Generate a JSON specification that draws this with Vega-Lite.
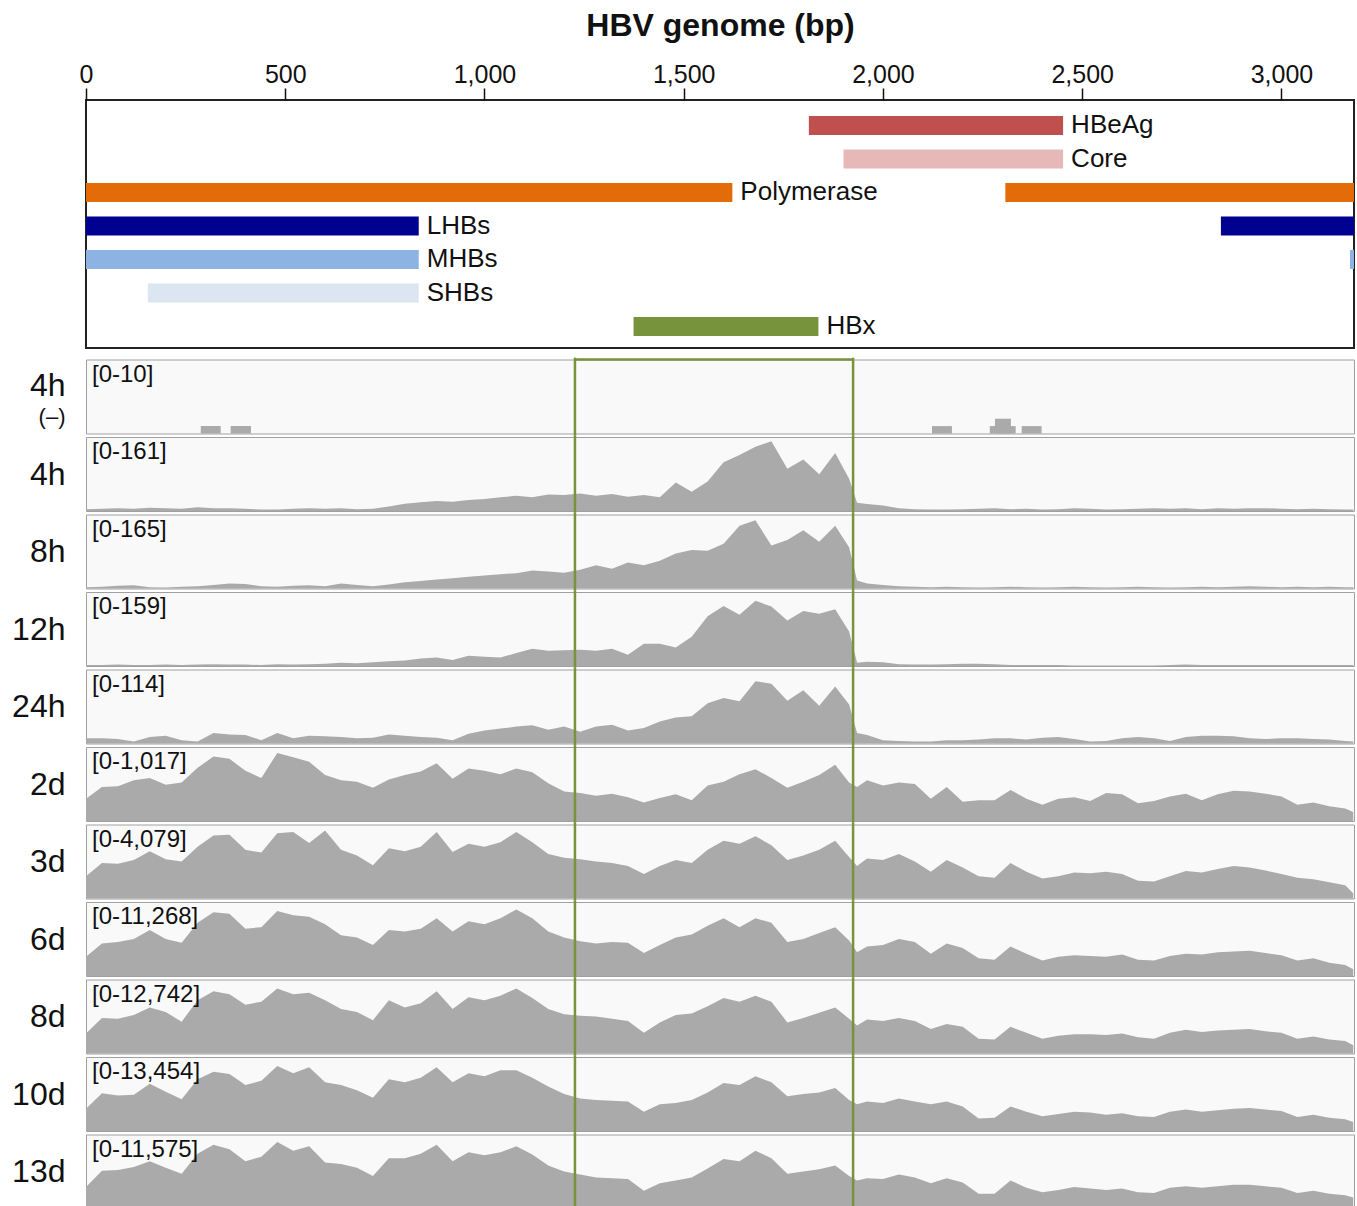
{
"$schema": "https://vega.github.io/schema/vega-lite/v6.json",
"padding": {"left": 11, "top": 8, "right": 0, "bottom": 0},
"spacing": -2.5,
"config": {"font": "Liberation Sans", "view": {"stroke": null}, "axis": {"labelColor": "#111", "titleColor": "#111"}},
"datasets": {
"box": [{"x": 1227}, {"x": 1925}],
"genes": [
{"gene": "HBeAg", "start": 1814, "end": 2452, "lab": "HBeAg"},
{"gene": "Core", "start": 1901, "end": 2452, "lab": "Core"},
{"gene": "Polymerase", "start": 0, "end": 1622, "lab": "Polymerase"},
{"gene": "Polymerase", "start": 2307, "end": 3182, "lab": ""},
{"gene": "LHBs", "start": 0, "end": 835, "lab": "LHBs"},
{"gene": "LHBs", "start": 2848, "end": 3182, "lab": ""},
{"gene": "MHBs", "start": 0, "end": 835, "lab": "MHBs"},
{"gene": "MHBs", "start": 3172, "end": 3182, "lab": ""},
{"gene": "SHBs", "start": 155, "end": 835, "lab": "SHBs"},
{"gene": "HBx", "start": 1374, "end": 1838, "lab": "HBx"}
],
"cov": [
{"x":0,"h4":4,"h8":3,"h12":2,"h24":8,"d2":305,"d3":1224,"d6":2930,"d8":3440,"d10":4036,"d13":3357},
{"x":40,"h4":5,"h8":4,"h12":2,"h24":8,"d2":468,"d3":1958,"d6":4958,"d8":6116,"d10":6862,"d13":5903},
{"x":80,"h4":6,"h8":6,"h12":3,"h24":7,"d2":478,"d3":1917,"d6":5183,"d8":5989,"d10":6458,"d13":6019},
{"x":120,"h4":5,"h8":7,"h12":2,"h24":3,"d2":559,"d3":2121,"d6":5634,"d8":6626,"d10":6592,"d13":6482},
{"x":160,"h4":7,"h8":3,"h12":2,"h24":10,"d2":590,"d3":2611,"d6":6986,"d8":7900,"d10":8611,"d13":7408},
{"x":200,"h4":6,"h8":2,"h12":3,"h24":12,"d2":498,"d3":2162,"d6":5634,"d8":7136,"d10":7131,"d13":6366},
{"x":240,"h4":5,"h8":4,"h12":2,"h24":5,"d2":529,"d3":2040,"d6":5071,"d8":5479,"d10":5785,"d13":5440},
{"x":280,"h4":8,"h8":5,"h12":3,"h24":3,"d2":732,"d3":2855,"d6":8113,"d8":9174,"d10":9418,"d13":8566},
{"x":320,"h4":6,"h8":8,"h12":4,"h24":16,"d2":885,"d3":3467,"d6":9690,"d8":10703,"d10":10763,"d13":9955},
{"x":360,"h4":6,"h8":11,"h12":3,"h24":14,"d2":854,"d3":3508,"d6":9465,"d8":10194,"d10":10360,"d13":9260},
{"x":400,"h4":5,"h8":10,"h12":3,"h24":13,"d2":692,"d3":2692,"d6":7212,"d8":8410,"d10":8341,"d13":7408},
{"x":440,"h4":3,"h8":5,"h12":2,"h24":5,"d2":590,"d3":2529,"d6":7437,"d8":8919,"d10":9149,"d13":8103},
{"x":480,"h4":3,"h8":4,"h12":4,"h24":16,"d2":936,"d3":3590,"d6":9916,"d8":11213,"d10":11840,"d13":10418},
{"x":520,"h4":5,"h8":6,"h12":3,"h24":8,"d2":875,"d3":3671,"d6":9240,"d8":10194,"d10":10494,"d13":9029},
{"x":560,"h4":6,"h8":7,"h12":4,"h24":12,"d2":814,"d3":3059,"d6":9014,"d8":10448,"d10":11570,"d13":9723},
{"x":600,"h4":5,"h8":5,"h12":5,"h24":11,"d2":631,"d3":3753,"d6":7888,"d8":9174,"d10":8880,"d13":7177},
{"x":640,"h4":6,"h8":11,"h12":7,"h24":10,"d2":559,"d3":2692,"d6":6197,"d8":7645,"d10":8341,"d13":6945},
{"x":680,"h4":4,"h8":8,"h12":6,"h24":8,"d2":539,"d3":2366,"d6":5859,"d8":7136,"d10":7400,"d13":6366},
{"x":720,"h4":5,"h8":5,"h12":8,"h24":9,"d2":458,"d3":1836,"d6":4733,"d8":5734,"d10":6054,"d13":5093},
{"x":760,"h4":10,"h8":9,"h12":10,"h24":14,"d2":570,"d3":2774,"d6":6986,"d8":9174,"d10":9418,"d13":7871},
{"x":800,"h4":16,"h8":14,"h12":12,"h24":12,"d2":631,"d3":2611,"d6":6761,"d8":7900,"d10":8880,"d13":7871},
{"x":840,"h4":19,"h8":17,"h12":16,"h24":10,"d2":681,"d3":2855,"d6":7212,"d8":8665,"d10":9687,"d13":8566},
{"x":880,"h4":22,"h8":20,"h12":18,"h24":9,"d2":793,"d3":3671,"d6":8789,"d8":10703,"d10":11570,"d13":9955},
{"x":920,"h4":20,"h8":23,"h12":13,"h24":5,"d2":580,"d3":2570,"d6":6761,"d8":7645,"d10":8880,"d13":7408},
{"x":960,"h4":24,"h8":26,"h12":22,"h24":15,"d2":722,"d3":3018,"d6":8338,"d8":9684,"d10":10494,"d13":8797},
{"x":1000,"h4":26,"h8":29,"h12":20,"h24":20,"d2":692,"d3":2855,"d6":7888,"d8":9174,"d10":9956,"d13":8334},
{"x":1040,"h4":30,"h8":32,"h12":18,"h24":23,"d2":641,"d3":3100,"d6":8789,"d8":9939,"d10":11032,"d13":8797},
{"x":1080,"h4":33,"h8":34,"h12":28,"h24":26,"d2":722,"d3":3671,"d6":10141,"d8":11213,"d10":11032,"d13":9723},
{"x":1120,"h4":30,"h8":40,"h12":37,"h24":28,"d2":671,"d3":3100,"d6":8789,"d8":9557,"d10":9687,"d13":8450},
{"x":1160,"h4":36,"h8":38,"h12":33,"h24":21,"d2":519,"d3":2447,"d6":6761,"d8":7645,"d10":8072,"d13":6714},
{"x":1200,"h4":35,"h8":35,"h12":34,"h24":26,"d2":407,"d3":2243,"d6":5859,"d8":6753,"d10":6727,"d13":5788},
{"x":1240,"h4":38,"h8":42,"h12":35,"h24":18,"d2":386,"d3":2162,"d6":5296,"d8":6498,"d10":5920,"d13":5325},
{"x":1280,"h4":33,"h8":52,"h12":33,"h24":26,"d2":346,"d3":2040,"d6":4958,"d8":6371,"d10":5651,"d13":4862},
{"x":1320,"h4":37,"h8":44,"h12":37,"h24":29,"d2":376,"d3":1958,"d6":5183,"d8":5989,"d10":5516,"d13":4746},
{"x":1360,"h4":31,"h8":58,"h12":24,"h24":20,"d2":325,"d3":1795,"d6":5071,"d8":5606,"d10":5382,"d13":4630},
{"x":1400,"h4":35,"h8":52,"h12":48,"h24":24,"d2":254,"d3":1346,"d6":3493,"d8":3568,"d10":3498,"d13":2778},
{"x":1440,"h4":30,"h8":62,"h12":48,"h24":34,"d2":315,"d3":1795,"d6":4733,"d8":5352,"d10":4843,"d13":3936},
{"x":1480,"h4":62,"h8":78,"h12":40,"h24":40,"d2":366,"d3":2121,"d6":5859,"d8":6626,"d10":5113,"d13":4399},
{"x":1520,"h4":42,"h8":86,"h12":63,"h24":42,"d2":285,"d3":1958,"d6":6310,"d8":6881,"d10":5651,"d13":4862},
{"x":1560,"h4":64,"h8":84,"h12":107,"h24":62,"d2":488,"d3":2692,"d6":7662,"d8":8155,"d10":6996,"d13":6251},
{"x":1600,"h4":106,"h8":100,"h12":129,"h24":70,"d2":539,"d3":3182,"d6":8789,"d8":9557,"d10":8745,"d13":7755},
{"x":1640,"h4":122,"h8":140,"h12":110,"h24":65,"d2":641,"d3":3018,"d6":7437,"d8":8919,"d10":8341,"d13":7408},
{"x":1680,"h4":140,"h8":152,"h12":140,"h24":96,"d2":712,"d3":3426,"d6":8789,"d8":9939,"d10":9956,"d13":9029},
{"x":1720,"h4":152,"h8":96,"h12":128,"h24":92,"d2":590,"d3":2937,"d6":8113,"d8":8919,"d10":8880,"d13":7871},
{"x":1760,"h4":92,"h8":108,"h12":98,"h24":66,"d2":458,"d3":2121,"d6":5183,"d8":5352,"d10":6323,"d13":5440},
{"x":1800,"h4":112,"h8":130,"h12":118,"h24":82,"d2":539,"d3":2366,"d6":5634,"d8":6116,"d10":6727,"d13":5788},
{"x":1840,"h4":80,"h8":104,"h12":112,"h24":58,"d2":631,"d3":2692,"d6":6535,"d8":7008,"d10":6996,"d13":6135},
{"x":1880,"h4":126,"h8":140,"h12":122,"h24":88,"d2":773,"d3":3182,"d6":7437,"d8":7900,"d10":7803,"d13":6714},
{"x":1915,"h4":70,"h8":92,"h12":74,"h24":60,"d2":529,"d3":2284,"d6":5409,"d8":5989,"d10":5651,"d13":5093},
{"x":1935,"h4":18,"h8":18,"h12":7,"h24":16,"d2":468,"d3":1795,"d6":3606,"d8":4842,"d10":4843,"d13":4399},
{"x":1960,"h4":15,"h8":11,"h12":9,"h24":13,"d2":559,"d3":2203,"d6":4507,"d8":5861,"d10":5382,"d13":4746},
{"x":2000,"h4":12,"h8":8,"h12":8,"h24":5,"d2":488,"d3":2121,"d6":4733,"d8":5606,"d10":5113,"d13":4630},
{"x":2040,"h4":6,"h8":5,"h12":4,"h24":4,"d2":529,"d3":2447,"d6":5634,"d8":6116,"d10":5920,"d13":5325},
{"x":2080,"h4":4,"h8":4,"h12":3,"h24":3,"d2":509,"d3":2040,"d6":5183,"d8":5606,"d10":5382,"d13":4862},
{"x":2120,"h4":3,"h8":3,"h12":3,"h24":3,"d2":305,"d3":1468,"d6":3380,"d8":4205,"d10":4843,"d13":3936},
{"x":2160,"h4":3,"h8":4,"h12":4,"h24":5,"d2":468,"d3":2121,"d6":4958,"d8":5097,"d10":5382,"d13":4746},
{"x":2200,"h4":4,"h8":3,"h12":5,"h24":5,"d2":264,"d3":1713,"d6":4282,"d8":4587,"d10":4440,"d13":4051},
{"x":2240,"h4":5,"h8":2,"h12":5,"h24":6,"d2":285,"d3":1224,"d6":2704,"d8":2548,"d10":2287,"d13":2315},
{"x":2280,"h4":6,"h8":3,"h12":4,"h24":8,"d2":285,"d3":1142,"d6":2479,"d8":2421,"d10":2422,"d13":2315},
{"x":2320,"h4":4,"h8":4,"h12":2,"h24":8,"d2":427,"d3":1958,"d6":4507,"d8":4587,"d10":4440,"d13":4399},
{"x":2360,"h4":5,"h8":3,"h12":2,"h24":6,"d2":305,"d3":1468,"d6":3380,"d8":3568,"d10":3498,"d13":3241},
{"x":2400,"h4":3,"h8":2,"h12":2,"h24":9,"d2":224,"d3":1101,"d6":2366,"d8":2548,"d10":2691,"d13":2547},
{"x":2440,"h4":4,"h8":3,"h12":2,"h24":10,"d2":305,"d3":1224,"d6":2930,"d8":3058,"d10":3094,"d13":2894},
{"x":2480,"h4":6,"h8":4,"h12":1,"h24":7,"d2":325,"d3":1428,"d6":3155,"d8":3313,"d10":3498,"d13":3357},
{"x":2520,"h4":5,"h8":3,"h12":1,"h24":3,"d2":275,"d3":1387,"d6":3042,"d8":3313,"d10":3364,"d13":3125},
{"x":2560,"h4":3,"h8":2,"h12":1,"h24":4,"d2":386,"d3":1468,"d6":2930,"d8":3186,"d10":2960,"d13":2894},
{"x":2600,"h4":4,"h8":3,"h12":1,"h24":8,"d2":366,"d3":1346,"d6":3268,"d8":3440,"d10":3229,"d13":3125},
{"x":2640,"h4":5,"h8":4,"h12":1,"h24":10,"d2":244,"d3":979,"d6":2479,"d8":2803,"d10":2691,"d13":2547},
{"x":2680,"h4":6,"h8":3,"h12":1,"h24":8,"d2":275,"d3":938,"d6":2366,"d8":2548,"d10":2556,"d13":2431},
{"x":2720,"h4":5,"h8":2,"h12":2,"h24":4,"d2":336,"d3":1224,"d6":3042,"d8":3568,"d10":3498,"d13":3241},
{"x":2760,"h4":6,"h8":3,"h12":3,"h24":10,"d2":376,"d3":1509,"d6":3380,"d8":4077,"d10":3902,"d13":3473},
{"x":2800,"h4":4,"h8":4,"h12":2,"h24":12,"d2":285,"d3":1428,"d6":3268,"d8":3695,"d10":3498,"d13":3241},
{"x":2840,"h4":6,"h8":3,"h12":2,"h24":12,"d2":366,"d3":1632,"d6":3606,"d8":3950,"d10":3767,"d13":3473},
{"x":2880,"h4":5,"h8":4,"h12":2,"h24":11,"d2":417,"d3":1795,"d6":3718,"d8":4077,"d10":4036,"d13":3704},
{"x":2920,"h4":6,"h8":5,"h12":2,"h24":8,"d2":407,"d3":1713,"d6":3831,"d8":4205,"d10":4171,"d13":3704},
{"x":2960,"h4":6,"h8":4,"h12":2,"h24":7,"d2":376,"d3":1550,"d6":3493,"d8":3823,"d10":3902,"d13":3473},
{"x":3000,"h4":5,"h8":3,"h12":2,"h24":8,"d2":336,"d3":1346,"d6":3155,"d8":3568,"d10":3633,"d13":3241},
{"x":3040,"h4":4,"h8":4,"h12":2,"h24":8,"d2":224,"d3":1142,"d6":2366,"d8":2548,"d10":2556,"d13":2431},
{"x":3080,"h4":5,"h8":3,"h12":2,"h24":7,"d2":254,"d3":1061,"d6":2704,"d8":2931,"d10":2960,"d13":2778},
{"x":3120,"h4":4,"h8":4,"h12":2,"h24":6,"d2":203,"d3":897,"d6":2028,"d8":2421,"d10":2422,"d13":2315},
{"x":3160,"h4":3,"h8":3,"h12":2,"h24":4,"d2":173,"d3":734,"d6":1690,"d8":2166,"d10":2153,"d13":2084},
{"x":3180,"h4":3,"h8":3,"h12":2,"h24":3,"d2":122,"d3":286,"d6":1014,"d8":1402,"d10":1614,"d13":1736}
]
},
"vconcat": [
{
 "width": 1268, "height": 248,
 "view": {"fill": "white", "stroke": "#222", "strokeWidth": 2},
 "data": {"name": "genes"},
 "layer": [
  {"mark": {"type": "bar"},
   "encoding": {
    "x": {"field": "start", "type": "quantitative", "scale": {"domain": [0, 3182], "nice": false},
      "axis": {"orient": "top", "title": "HBV genome (bp)", "values": [0, 500, 1000, 1500, 2000, 2500, 3000], "labelExpr": "format(datum.value, ',')", "labelFontSize": 25, "labelFlush": false, "tickSize": 12, "tickColor": "#111", "tickWidth": 1.5, "domain": false, "grid": false, "labelPadding": 1, "titleFontSize": 32, "titleFontWeight": "bold", "titlePadding": 20}},
    "x2": {"field": "end"},
    "y": {"field": "gene", "type": "nominal", "sort": ["HBeAg", "Core", "Polymerase", "LHBs", "MHBs", "SHBs", "HBx"], "scale": {"paddingInner": 0.433, "paddingOuter": 0.418, "align": 0.57}, "axis": null},
    "color": {"field": "gene", "type": "nominal", "scale": {"domain": ["HBeAg", "Core", "Polymerase", "LHBs", "MHBs", "SHBs", "HBx"], "range": ["#c0504d", "#e6b9b8", "#e36c09", "#000091", "#8db3e2", "#dce6f2", "#77933c"]}, "legend": null}
   }},
  {"mark": {"type": "text", "align": "left", "baseline": "middle", "dx": 8, "fontSize": 26, "color": "#111"},
   "encoding": {
    "x": {"field": "end", "type": "quantitative", "scale": {"domain": [0, 3182], "nice": false}, "axis": {"orient": "bottom", "labels": false, "domain": false, "grid": false, "ticks": true, "tickSize": 10, "tickOpacity": 0, "title": null, "values": [0]}},
    "y": {"field": "gene", "type": "nominal", "sort": ["HBeAg", "Core", "Polymerase", "LHBs", "MHBs", "SHBs", "HBx"]},
    "text": {"field": "lab"}
   }}
 ],
 "resolve": {"axis": {"x": "independent"}}
},
{
 "width": 1268, "height": 74,
 "view": {"fill": "#f9f9f9", "stroke": "#a0a0a0", "strokeWidth": 1},
 "layer": [
  {"data": {"values": [{"s": 288, "e": 338, "v": 1}, {"s": 363, "e": 414, "v": 1}, {"s": 2123, "e": 2173, "v": 1}, {"s": 2268, "e": 2333, "v": 1}, {"s": 2281, "e": 2321, "v": 2}, {"s": 2348, "e": 2398, "v": 1}]},
   "mark": {"type": "rect", "color": "#aaaaaa"},
   "encoding": {
    "x": {"field": "s", "type": "quantitative", "scale": {"domain": [0, 3182], "nice": false}, "axis": null},
    "x2": {"field": "e"},
    "y": {"field": "v", "type": "quantitative", "scale": {"domain": [0, 10], "nice": false},
      "axis": {"values": [6.5, 2.3], "labelExpr": "datum.value > 5 ? '4h' : '(–)'", "labelFontSize": {"condition": {"test": "datum.value > 5", "value": 32}, "value": 22}, "ticks": false, "domain": false, "grid": false, "title": null, "labelPadding": 21, "minExtent": 0}},
    "y2": {"datum": 0}
   }},
  {"data": {"values": [{"x": 15, "v": 10, "t": "[0-10]"}]},
   "mark": {"type": "text", "align": "left", "baseline": "top", "dy": 3, "fontSize": 24, "color": "#111"},
   "encoding": {"x": {"field": "x", "type": "quantitative", "axis": null}, "y": {"field": "v", "type": "quantitative", "title": null}, "text": {"field": "t"}}},
  {"data": {"name": "box"},
   "mark": {"type": "rule", "color": "#77933c", "strokeWidth": 2.5, "strokeCap": "square"},
   "encoding": {"x": {"field": "x", "type": "quantitative", "axis": null}, "y": {"datum": -0.074}, "y2": {"datum": 10.074}}},
  {"data": {"values": [{"a": 1227, "b": 1925, "v": 10}]},
   "mark": {"type": "rule", "color": "#77933c", "strokeWidth": 2.5},
   "encoding": {"x": {"field": "a", "type": "quantitative", "axis": null}, "x2": {"field": "b"}, "y": {"field": "v", "type": "quantitative", "title": null}}}
 ]
},
{
 "width": 1268, "height": 74,
 "view": {"fill": "#f9f9f9", "stroke": "#a0a0a0", "strokeWidth": 1},
 "encoding": {"x": {"field": "x", "type": "quantitative", "scale": {"domain": [0, 3182], "nice": false}, "axis": null}},
 "layer": [
  {"data": {"name": "cov"}, "mark": {"type": "area", "color": "#aaaaaa"},
   "encoding": {"y": {"field": "h4", "type": "quantitative", "scale": {"domain": [0, 161], "nice": false}, "axis": {"values": [80.5], "labelExpr": "'4h'", "labelFontSize": 32, "ticks": false, "domain": false, "grid": false, "title": null, "labelPadding": 21, "minExtent": 0}}}},
  {"data": {"values": [{"x": 15, "h4": 161, "t": "[0-161]"}]}, "mark": {"type": "text", "align": "left", "baseline": "top", "dy": 3, "fontSize": 24, "color": "#111"},
   "encoding": {"y": {"field": "h4", "type": "quantitative"}, "text": {"field": "t"}}},
  {"data": {"name": "box"}, "mark": {"type": "rule", "color": "#77933c", "strokeWidth": 2.5, "strokeCap": "square"},
   "encoding": {"y": {"datum": -1.2}, "y2": {"datum": 162.2}}}
 ]
},
{
 "width": 1268, "height": 74,
 "view": {"fill": "#f9f9f9", "stroke": "#a0a0a0", "strokeWidth": 1},
 "encoding": {"x": {"field": "x", "type": "quantitative", "scale": {"domain": [0, 3182], "nice": false}, "axis": null}},
 "layer": [
  {"data": {"name": "cov"}, "mark": {"type": "area", "color": "#aaaaaa"},
   "encoding": {"y": {"field": "h8", "type": "quantitative", "scale": {"domain": [0, 165], "nice": false}, "axis": {"values": [82.5], "labelExpr": "'8h'", "labelFontSize": 32, "ticks": false, "domain": false, "grid": false, "title": null, "labelPadding": 21, "minExtent": 0}}}},
  {"data": {"values": [{"x": 15, "h8": 165, "t": "[0-165]"}]}, "mark": {"type": "text", "align": "left", "baseline": "top", "dy": 3, "fontSize": 24, "color": "#111"},
   "encoding": {"y": {"field": "h8", "type": "quantitative"}, "text": {"field": "t"}}},
  {"data": {"name": "box"}, "mark": {"type": "rule", "color": "#77933c", "strokeWidth": 2.5, "strokeCap": "square"},
   "encoding": {"y": {"datum": -1.23}, "y2": {"datum": 166.23}}}
 ]
},
{
 "width": 1268, "height": 74,
 "view": {"fill": "#f9f9f9", "stroke": "#a0a0a0", "strokeWidth": 1},
 "encoding": {"x": {"field": "x", "type": "quantitative", "scale": {"domain": [0, 3182], "nice": false}, "axis": null}},
 "layer": [
  {"data": {"name": "cov"}, "mark": {"type": "area", "color": "#aaaaaa"},
   "encoding": {"y": {"field": "h12", "type": "quantitative", "scale": {"domain": [0, 159], "nice": false}, "axis": {"values": [79.5], "labelExpr": "'12h'", "labelFontSize": 32, "ticks": false, "domain": false, "grid": false, "title": null, "labelPadding": 21, "minExtent": 0}}}},
  {"data": {"values": [{"x": 15, "h12": 159, "t": "[0-159]"}]}, "mark": {"type": "text", "align": "left", "baseline": "top", "dy": 3, "fontSize": 24, "color": "#111"},
   "encoding": {"y": {"field": "h12", "type": "quantitative"}, "text": {"field": "t"}}},
  {"data": {"name": "box"}, "mark": {"type": "rule", "color": "#77933c", "strokeWidth": 2.5, "strokeCap": "square"},
   "encoding": {"y": {"datum": -1.18}, "y2": {"datum": 160.18}}}
 ]
},
{
 "width": 1268, "height": 74,
 "view": {"fill": "#f9f9f9", "stroke": "#a0a0a0", "strokeWidth": 1},
 "encoding": {"x": {"field": "x", "type": "quantitative", "scale": {"domain": [0, 3182], "nice": false}, "axis": null}},
 "layer": [
  {"data": {"name": "cov"}, "mark": {"type": "area", "color": "#aaaaaa"},
   "encoding": {"y": {"field": "h24", "type": "quantitative", "scale": {"domain": [0, 114], "nice": false}, "axis": {"values": [57], "labelExpr": "'24h'", "labelFontSize": 32, "ticks": false, "domain": false, "grid": false, "title": null, "labelPadding": 21, "minExtent": 0}}}},
  {"data": {"values": [{"x": 15, "h24": 114, "t": "[0-114]"}]}, "mark": {"type": "text", "align": "left", "baseline": "top", "dy": 3, "fontSize": 24, "color": "#111"},
   "encoding": {"y": {"field": "h24", "type": "quantitative"}, "text": {"field": "t"}}},
  {"data": {"name": "box"}, "mark": {"type": "rule", "color": "#77933c", "strokeWidth": 2.5, "strokeCap": "square"},
   "encoding": {"y": {"datum": -0.85}, "y2": {"datum": 114.85}}}
 ]
},
{
 "width": 1268, "height": 74,
 "view": {"fill": "#f9f9f9", "stroke": "#a0a0a0", "strokeWidth": 1},
 "encoding": {"x": {"field": "x", "type": "quantitative", "scale": {"domain": [0, 3182], "nice": false}, "axis": null}},
 "layer": [
  {"data": {"name": "cov"}, "mark": {"type": "area", "color": "#aaaaaa"},
   "encoding": {"y": {"field": "d2", "type": "quantitative", "scale": {"domain": [0, 1017], "nice": false}, "axis": {"values": [508.5], "labelExpr": "'2d'", "labelFontSize": 32, "ticks": false, "domain": false, "grid": false, "title": null, "labelPadding": 21, "minExtent": 0}}}},
  {"data": {"values": [{"x": 15, "d2": 1017, "t": "[0-1,017]"}]}, "mark": {"type": "text", "align": "left", "baseline": "top", "dy": 3, "fontSize": 24, "color": "#111"},
   "encoding": {"y": {"field": "d2", "type": "quantitative"}, "text": {"field": "t"}}},
  {"data": {"name": "box"}, "mark": {"type": "rule", "color": "#77933c", "strokeWidth": 2.5, "strokeCap": "square"},
   "encoding": {"y": {"datum": -7.6}, "y2": {"datum": 1024.6}}}
 ]
},
{
 "width": 1268, "height": 74,
 "view": {"fill": "#f9f9f9", "stroke": "#a0a0a0", "strokeWidth": 1},
 "encoding": {"x": {"field": "x", "type": "quantitative", "scale": {"domain": [0, 3182], "nice": false}, "axis": null}},
 "layer": [
  {"data": {"name": "cov"}, "mark": {"type": "area", "color": "#aaaaaa"},
   "encoding": {"y": {"field": "d3", "type": "quantitative", "scale": {"domain": [0, 4079], "nice": false}, "axis": {"values": [2039.5], "labelExpr": "'3d'", "labelFontSize": 32, "ticks": false, "domain": false, "grid": false, "title": null, "labelPadding": 21, "minExtent": 0}}}},
  {"data": {"values": [{"x": 15, "d3": 4079, "t": "[0-4,079]"}]}, "mark": {"type": "text", "align": "left", "baseline": "top", "dy": 3, "fontSize": 24, "color": "#111"},
   "encoding": {"y": {"field": "d3", "type": "quantitative"}, "text": {"field": "t"}}},
  {"data": {"name": "box"}, "mark": {"type": "rule", "color": "#77933c", "strokeWidth": 2.5, "strokeCap": "square"},
   "encoding": {"y": {"datum": -30.3}, "y2": {"datum": 4109.3}}}
 ]
},
{
 "width": 1268, "height": 74,
 "view": {"fill": "#f9f9f9", "stroke": "#a0a0a0", "strokeWidth": 1},
 "encoding": {"x": {"field": "x", "type": "quantitative", "scale": {"domain": [0, 3182], "nice": false}, "axis": null}},
 "layer": [
  {"data": {"name": "cov"}, "mark": {"type": "area", "color": "#aaaaaa"},
   "encoding": {"y": {"field": "d6", "type": "quantitative", "scale": {"domain": [0, 11268], "nice": false}, "axis": {"values": [5634], "labelExpr": "'6d'", "labelFontSize": 32, "ticks": false, "domain": false, "grid": false, "title": null, "labelPadding": 21, "minExtent": 0}}}},
  {"data": {"values": [{"x": 15, "d6": 11268, "t": "[0-11,268]"}]}, "mark": {"type": "text", "align": "left", "baseline": "top", "dy": 3, "fontSize": 24, "color": "#111"},
   "encoding": {"y": {"field": "d6", "type": "quantitative"}, "text": {"field": "t"}}},
  {"data": {"name": "box"}, "mark": {"type": "rule", "color": "#77933c", "strokeWidth": 2.5, "strokeCap": "square"},
   "encoding": {"y": {"datum": -83.7}, "y2": {"datum": 11351.7}}}
 ]
},
{
 "width": 1268, "height": 74,
 "view": {"fill": "#f9f9f9", "stroke": "#a0a0a0", "strokeWidth": 1},
 "encoding": {"x": {"field": "x", "type": "quantitative", "scale": {"domain": [0, 3182], "nice": false}, "axis": null}},
 "layer": [
  {"data": {"name": "cov"}, "mark": {"type": "area", "color": "#aaaaaa"},
   "encoding": {"y": {"field": "d8", "type": "quantitative", "scale": {"domain": [0, 12742], "nice": false}, "axis": {"values": [6371], "labelExpr": "'8d'", "labelFontSize": 32, "ticks": false, "domain": false, "grid": false, "title": null, "labelPadding": 21, "minExtent": 0}}}},
  {"data": {"values": [{"x": 15, "d8": 12742, "t": "[0-12,742]"}]}, "mark": {"type": "text", "align": "left", "baseline": "top", "dy": 3, "fontSize": 24, "color": "#111"},
   "encoding": {"y": {"field": "d8", "type": "quantitative"}, "text": {"field": "t"}}},
  {"data": {"name": "box"}, "mark": {"type": "rule", "color": "#77933c", "strokeWidth": 2.5, "strokeCap": "square"},
   "encoding": {"y": {"datum": -94.7}, "y2": {"datum": 12836.7}}}
 ]
},
{
 "width": 1268, "height": 74,
 "view": {"fill": "#f9f9f9", "stroke": "#a0a0a0", "strokeWidth": 1},
 "encoding": {"x": {"field": "x", "type": "quantitative", "scale": {"domain": [0, 3182], "nice": false}, "axis": null}},
 "layer": [
  {"data": {"name": "cov"}, "mark": {"type": "area", "color": "#aaaaaa"},
   "encoding": {"y": {"field": "d10", "type": "quantitative", "scale": {"domain": [0, 13454], "nice": false}, "axis": {"values": [6727], "labelExpr": "'10d'", "labelFontSize": 32, "ticks": false, "domain": false, "grid": false, "title": null, "labelPadding": 21, "minExtent": 0}}}},
  {"data": {"values": [{"x": 15, "d10": 13454, "t": "[0-13,454]"}]}, "mark": {"type": "text", "align": "left", "baseline": "top", "dy": 3, "fontSize": 24, "color": "#111"},
   "encoding": {"y": {"field": "d10", "type": "quantitative"}, "text": {"field": "t"}}},
  {"data": {"name": "box"}, "mark": {"type": "rule", "color": "#77933c", "strokeWidth": 2.5, "strokeCap": "square"},
   "encoding": {"y": {"datum": -100}, "y2": {"datum": 13554}}}
 ]
},
{
 "width": 1268, "height": 74,
 "view": {"fill": "#f9f9f9", "stroke": "#a0a0a0", "strokeWidth": 1},
 "encoding": {"x": {"field": "x", "type": "quantitative", "scale": {"domain": [0, 3182], "nice": false}, "axis": null}},
 "layer": [
  {"data": {"name": "cov"}, "mark": {"type": "area", "color": "#aaaaaa"},
   "encoding": {"y": {"field": "d13", "type": "quantitative", "scale": {"domain": [0, 11575], "nice": false}, "axis": {"values": [5787.5], "labelExpr": "'13d'", "labelFontSize": 32, "ticks": false, "domain": false, "grid": false, "title": null, "labelPadding": 21, "minExtent": 0}}}},
  {"data": {"values": [{"x": 15, "d13": 11575, "t": "[0-11,575]"}]}, "mark": {"type": "text", "align": "left", "baseline": "top", "dy": 3, "fontSize": 24, "color": "#111"},
   "encoding": {"y": {"field": "d13", "type": "quantitative"}, "text": {"field": "t"}}},
  {"data": {"name": "box"}, "mark": {"type": "rule", "color": "#77933c", "strokeWidth": 2.5, "strokeCap": "square"},
   "encoding": {"y": {"datum": -86}, "y2": {"datum": 11661}}}
 ]
}
]
}
